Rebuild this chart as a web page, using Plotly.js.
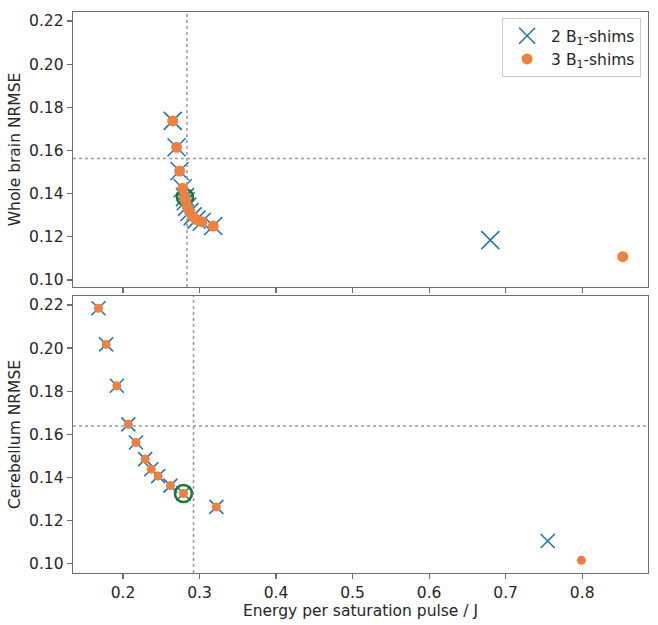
<!DOCTYPE html>
<html>
<head>
<meta charset="utf-8">
<script src="https://cdn.plot.ly/plotly-3.0.1.min.js"></script>
<style>html,body{margin:0;padding:0;background:#fff;}#chart{width:658px;height:625px;}</style>
</head>
<body>
<div id="chart"></div>
<script>
// Whole brain optimisation (top panel)
var wb2Energy = [0.265, 0.270, 0.274, 0.278, 0.281, 0.282, 0.284, 0.287, 0.291, 0.296, 0.303, 0.318, 0.680];
var wb2Nrmse  = [0.1737, 0.1615, 0.1505, 0.1425, 0.1384, 0.1365, 0.1340, 0.1315, 0.1295, 0.1280, 0.1270, 0.1250, 0.1185];
var wb3Energy = [0.265, 0.270, 0.274, 0.278, 0.281, 0.282, 0.284, 0.287, 0.291, 0.296, 0.303, 0.318, 0.853];
var wb3Nrmse  = [0.1737, 0.1615, 0.1505, 0.1425, 0.1384, 0.1365, 0.1340, 0.1315, 0.1295, 0.1280, 0.1270, 0.1250, 0.1108];
var wbChosen = 4;
var wbRefEnergy = [0.2836];
var wbRefNrmse  = [0.1563];

// Cerebellum optimisation (bottom panel)
var cb2Energy = [0.168, 0.178, 0.192, 0.207, 0.217, 0.229, 0.237, 0.246, 0.262, 0.279, 0.322, 0.755];
var cb2Nrmse  = [0.2185, 0.2017, 0.1825, 0.1646, 0.1562, 0.1485, 0.1438, 0.1406, 0.1362, 0.1325, 0.1263, 0.1105];
var cb3Energy = [0.168, 0.178, 0.192, 0.207, 0.217, 0.229, 0.237, 0.246, 0.262, 0.279, 0.322, 0.799];
var cb3Nrmse  = [0.2185, 0.2017, 0.1825, 0.1646, 0.1562, 0.1485, 0.1438, 0.1406, 0.1362, 0.1325, 0.1263, 0.1015];
var cbChosen = 9;
var cbRefEnergy = [0.2922];
var cbRefNrmse  = [0.1638];

var seriesNames = ['2 B<sub>1</sub>-shims', '3 B<sub>1</sub>-shims'];
var xTicks = [0.2, 0.3, 0.4, 0.5, 0.6, 0.7, 0.8];
var yTicks = [0.10, 0.12, 0.14, 0.16, 0.18, 0.20, 0.22];

var blue = '#1f77b4', orange = '#f0803a', green = '#1a7a35';
var font = {family: 'DejaVu Sans, sans-serif', size: 15.5, color: '#262626'};

var traces = [
  {x: wb2Energy, y: wb2Nrmse, xaxis: 'x2', yaxis: 'y', mode: 'markers', name: seriesNames[0],
   marker: {symbol: 'x-thin', size: 18, line: {color: blue, width: 1.6}, color: blue}},
  {x: [wb3Energy[wbChosen]], y: [wb3Nrmse[wbChosen]], xaxis: 'x2', yaxis: 'y', mode: 'markers', showlegend: false,
   marker: {symbol: 'circle-open', size: 16, line: {color: green, width: 2.6}, color: green}},
  {x: wb3Energy, y: wb3Nrmse, xaxis: 'x2', yaxis: 'y', mode: 'markers', name: seriesNames[1],
   marker: {symbol: 'circle', size: 11, color: orange}},
  {x: cb2Energy, y: cb2Nrmse, xaxis: 'x', yaxis: 'y2', mode: 'markers', showlegend: false,
   marker: {symbol: 'x-thin', size: 14, line: {color: blue, width: 1.6}, color: blue}},
  {x: [cb3Energy[cbChosen]], y: [cb3Nrmse[cbChosen]], xaxis: 'x', yaxis: 'y2', mode: 'markers', showlegend: false,
   marker: {symbol: 'circle-open', size: 17, line: {color: green, width: 2.6}, color: green}},
  {x: cb3Energy, y: cb3Nrmse, xaxis: 'x', yaxis: 'y2', mode: 'markers', showlegend: false,
   marker: {symbol: 'circle', size: 9, color: orange}}
];

var dot = {color: '#999999', width: 1.5, dash: 'dot'};
var shapes = [
  {type: 'line', xref: 'x2 domain', yref: 'y', x0: 0, x1: 1, y0: wbRefNrmse[0], y1: wbRefNrmse[0], line: dot},
  {type: 'line', xref: 'x2', yref: 'y domain', x0: wbRefEnergy[0], x1: wbRefEnergy[0], y0: 0, y1: 1, line: dot},
  {type: 'line', xref: 'x domain', yref: 'y2', x0: 0, x1: 1, y0: cbRefNrmse[0], y1: cbRefNrmse[0], line: dot},
  {type: 'line', xref: 'x', yref: 'y2 domain', x0: cbRefEnergy[0], x1: cbRefEnergy[0], y0: 0, y1: 1, line: dot}
];

var axBase = {showline: true, mirror: true, linecolor: '#6e6e6e', linewidth: 1.3, ticks: 'outside', ticklen: 5,
  tickcolor: '#6e6e6e', tickwidth: 1.2, showgrid: false, zeroline: false, tickfont: font, automargin: false};

var xrange = [0.1347, 0.886];
var layout = {
  width: 658, height: 625,
  margin: {l: 73, r: 10, t: 12, b: 52},
  paper_bgcolor: '#ffffff', plot_bgcolor: '#ffffff',
  font: font,
  showlegend: true,
  legend: {x: 0.988, y: 0.989, xanchor: 'right', yanchor: 'top', bordercolor: '#cccccc', borderwidth: 1,
    bgcolor: '#ffffff', font: font, tracegroupgap: 0, itemwidth: 38},
  xaxis: Object.assign({}, axBase, {domain: [0, 1], anchor: 'y2', range: xrange, tickvals: xTicks, tickformat: '.1f',
    title: {text: 'Energy per saturation pulse / J', font: font, standoff: 2}}),
  xaxis2: Object.assign({}, axBase, {domain: [0, 1], anchor: 'y', range: xrange, tickvals: xTicks, showticklabels: false, matches: 'x'}),
  yaxis: Object.assign({}, axBase, {domain: [0.5098, 1], anchor: 'x2', range: [0.09676, 0.22417], tickvals: yTicks, tickformat: '.2f',
    title: {text: 'Whole brain NRMSE', font: font, standoff: 4}}),
  yaxis2: Object.assign({}, axBase, {domain: [0, 0.4938], anchor: 'x', range: [0.09563, 0.22418], tickvals: yTicks, tickformat: '.2f',
    title: {text: 'Cerebellum NRMSE', font: font, standoff: 4}}),
  shapes: shapes
};

Plotly.newPlot('chart', traces, layout, {displayModeBar: false, staticPlot: true});
</script>
</body>
</html>
